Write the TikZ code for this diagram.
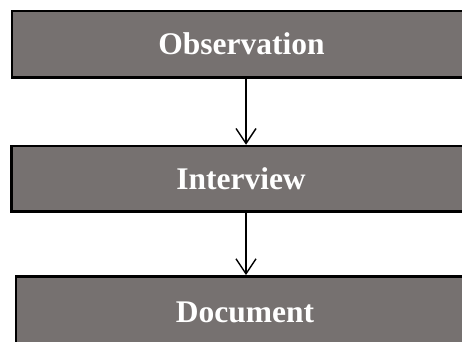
\documentclass[tikz,border=0pt]{standalone}
\usepackage{fontspec}
\setmainfont{Liberation Serif}
\usetikzlibrary{arrows.meta}
\definecolor{boxgray}{RGB}{118,113,112}
\begin{document}
\begin{tikzpicture}[x=1pt,y=1pt,
  stagebox/.style={draw=black, line width=2.5pt, fill=boxgray, text=white,
    minimum width=459pt, inner sep=0pt,
    font=\fontsize{31.5}{36}\selectfont\bfseries,
    text height=21pt, text depth=0pt},
  arr/.style={line width=1.4pt, -{Straight Barb[length=15pt,width=20pt,line width=1.4pt]}}]
\useasboundingbox (0,0) rectangle (462,-341);
\begin{scope}
\clip (0,0) rectangle (462,-341);
\node[stagebox, minimum height=66.3pt] (obs) at (241.5,-44.2) {Observation};
\node[stagebox, minimum height=65.5pt] (int) at (241,-178.75) {Interview};
\node[stagebox, minimum height=72pt, minimum width=458pt] (doc) at (245,-312.3) {Document};
\end{scope}
\draw[arr] ([xshift=4.5pt]obs.south) -- ([xshift=5pt]int.north);
\draw[arr] ([xshift=5pt]int.south) -- ([xshift=1pt]doc.north);
\end{tikzpicture}
\end{document}
